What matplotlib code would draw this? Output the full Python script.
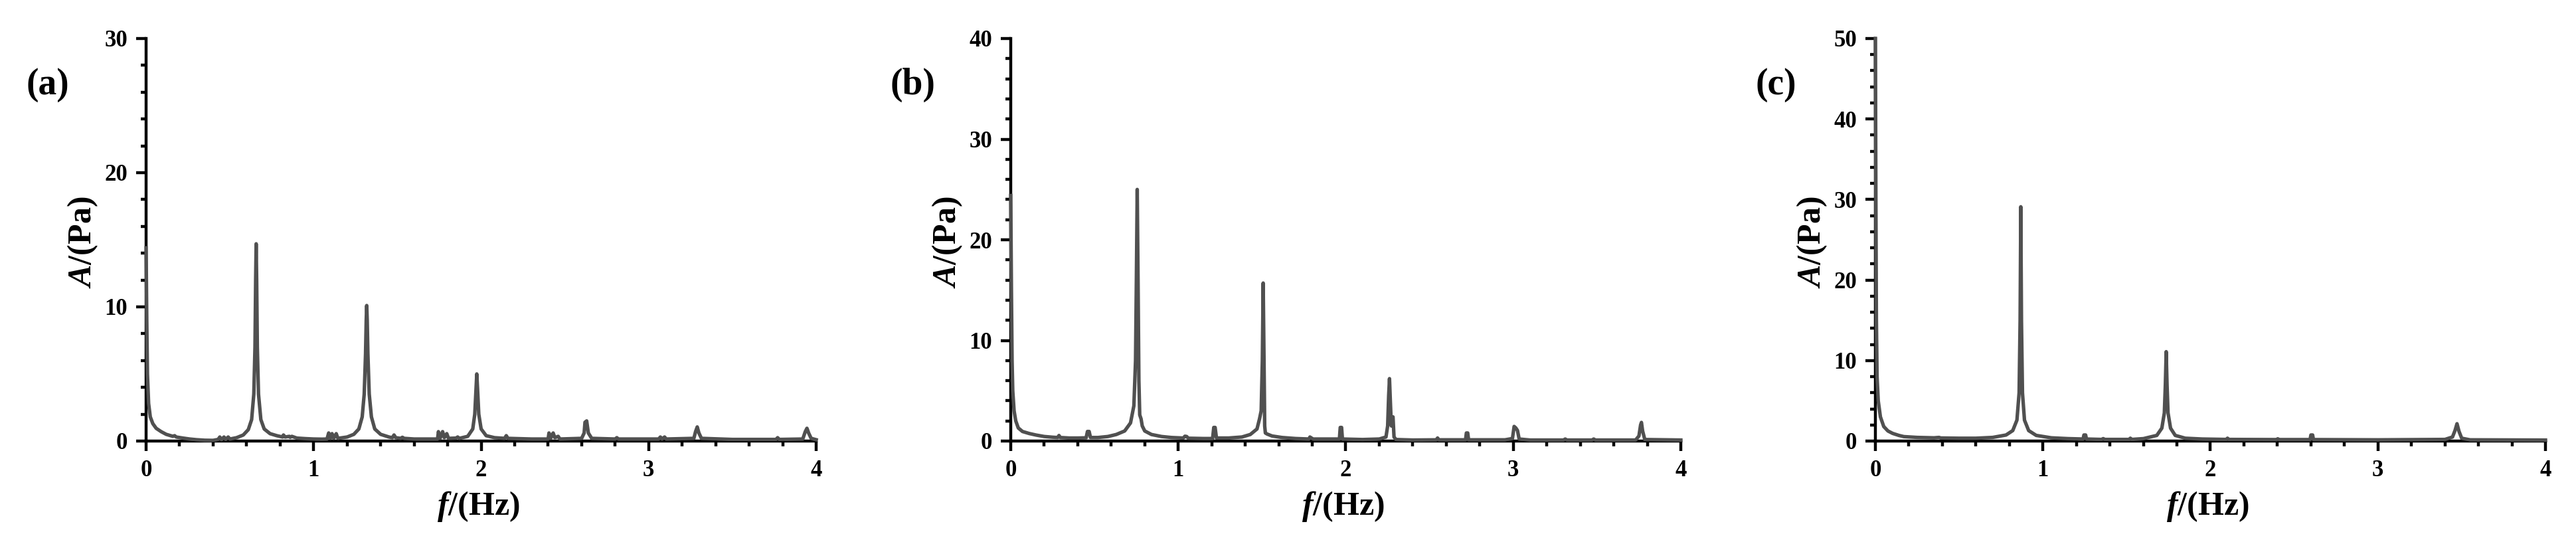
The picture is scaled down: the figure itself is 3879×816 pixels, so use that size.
import numpy as np
import matplotlib
matplotlib.use('Agg')
import matplotlib.pyplot as plt
from matplotlib.ticker import MultipleLocator

plt.rcParams['font.family'] = ['Liberation Serif', 'DejaVu Serif']
plt.rcParams['font.weight'] = 'bold'
plt.rcParams['mathtext.fontset'] = 'custom'
plt.rcParams['mathtext.it'] = 'Liberation Serif:bold:italic'
plt.rcParams['mathtext.rm'] = 'Liberation Serif:bold'

# spectrum (a): frequency in Hz, amplitude in Pa
freq_a = [0.000, 0.004, 0.008, 0.015, 0.025, 0.040, 0.060, 0.090, 0.120, 0.160, 0.170, 0.180,
          0.220, 0.260, 0.300, 0.350, 0.400, 0.430, 0.440, 0.450, 0.465, 0.475, 0.490, 0.500,
          0.540, 0.580, 0.610, 0.630, 0.643, 0.650, 0.654, 0.657, 0.660, 0.664, 0.671, 0.685,
          0.705, 0.740, 0.780, 0.815, 0.820, 0.830, 0.855, 0.860, 0.870, 0.900, 0.950, 1.000,
          1.050, 1.080, 1.090, 1.100, 1.110, 1.120, 1.135, 1.145, 1.200, 1.240, 1.270, 1.290,
          1.302, 1.310, 1.314, 1.317, 1.320, 1.324, 1.332, 1.345, 1.365, 1.400, 1.450, 1.470,
          1.480, 1.490, 1.520, 1.530, 1.540, 1.600, 1.700, 1.740, 1.745, 1.755, 1.770, 1.780,
          1.795, 1.805, 1.850, 1.860, 1.870, 1.920, 1.950, 1.962, 1.969, 1.974, 1.979, 1.986,
          2.000, 2.030, 2.080, 2.140, 2.150, 2.160, 2.300, 2.400, 2.405, 2.415, 2.430, 2.440,
          2.460, 2.470, 2.600, 2.615, 2.620, 2.630, 2.640, 2.660, 2.800, 2.810, 2.820, 3.060,
          3.070, 3.080, 3.095, 3.105, 3.270, 3.280, 3.290, 3.300, 3.315, 3.500, 3.760, 3.770,
          3.780, 3.920, 3.935, 3.945, 3.955, 3.970, 4.000]
amp_a = [14.4, 9.0, 5.0, 2.8, 1.8, 1.3, 0.95, 0.70, 0.50, 0.35, 0.40, 0.30,
         0.22, 0.15, 0.10, 0.06, 0.05, 0.12, 0.30, 0.10, 0.30, 0.12, 0.30, 0.15,
         0.25, 0.45, 0.85, 1.6, 3.5, 7.0, 12.0, 14.7, 12.0, 7.0, 3.5, 1.6,
         0.9, 0.55, 0.40, 0.30, 0.45, 0.30, 0.35, 0.28, 0.35, 0.22, 0.18, 0.15,
         0.14, 0.15, 0.60, 0.20, 0.55, 0.20, 0.55, 0.20, 0.30, 0.50, 0.90, 1.8,
         3.5, 6.5, 9.0, 10.1, 9.0, 6.5, 3.5, 1.8, 0.9, 0.5, 0.3, 0.25,
         0.45, 0.25, 0.20, 0.28, 0.20, 0.15, 0.15, 0.15, 0.70, 0.20, 0.70, 0.25,
         0.55, 0.20, 0.22, 0.30, 0.20, 0.35, 0.9, 2.0, 3.8, 5.0, 3.8, 2.0,
         0.9, 0.40, 0.25, 0.20, 0.40, 0.20, 0.15, 0.15, 0.60, 0.20, 0.60, 0.25,
         0.35, 0.15, 0.20, 0.60, 1.40, 1.50, 0.60, 0.20, 0.15, 0.25, 0.15, 0.15,
         0.30, 0.15, 0.30, 0.15, 0.20, 0.70, 1.05, 0.60, 0.20, 0.12, 0.12, 0.25,
         0.12, 0.15, 0.70, 0.95, 0.60, 0.20, 0.10]

# spectrum (b)
freq_b = [0.000, 0.004, 0.008, 0.012, 0.020, 0.030, 0.045, 0.070, 0.110, 0.150, 0.200, 0.250,
          0.280, 0.288, 0.296, 0.350, 0.400, 0.450, 0.458, 0.468, 0.476, 0.520, 0.580, 0.630,
          0.680, 0.715, 0.735, 0.745, 0.750, 0.755, 0.760, 0.765, 0.770, 0.778, 0.785, 0.800,
          0.840, 0.900, 0.960, 1.030, 1.040, 1.050, 1.060, 1.150, 1.205, 1.212, 1.220, 1.228,
          1.300, 1.380, 1.430, 1.470, 1.485, 1.495, 1.502, 1.507, 1.512, 1.516, 1.520, 1.530,
          1.560, 1.620, 1.700, 1.780, 1.786, 1.795, 1.805, 1.900, 1.962, 1.967, 1.975, 1.980,
          2.100, 2.200, 2.240, 2.250, 2.256, 2.261, 2.266, 2.272, 2.276, 2.282, 2.288, 2.300,
          2.400, 2.540, 2.548, 2.556, 2.715, 2.720, 2.728, 2.733, 2.950, 2.995, 3.005, 3.015,
          3.025, 3.035, 3.100, 3.300, 3.310, 3.320, 3.470, 3.480, 3.490, 3.730, 3.750, 3.760,
          3.765, 3.772, 3.785, 4.000]
amp_b = [24.4, 15.0, 8.0, 5.0, 3.0, 2.0, 1.3, 0.95, 0.75, 0.60, 0.45, 0.38,
         0.35, 0.55, 0.35, 0.30, 0.30, 0.32, 0.95, 0.95, 0.35, 0.35, 0.45, 0.65,
         1.0, 1.8, 3.5, 8.0, 16.0, 25.0, 16.0, 6.0, 2.6, 2.2, 1.5, 1.0,
         0.65, 0.45, 0.35, 0.30, 0.48, 0.45, 0.28, 0.25, 0.25, 1.35, 1.35, 0.30,
         0.30, 0.40, 0.65, 1.2, 2.2, 3.0, 8.0, 15.7, 8.0, 1.5, 0.8, 0.7,
         0.5, 0.35, 0.25, 0.20, 0.40, 0.30, 0.20, 0.20, 0.20, 1.35, 1.35, 0.20,
         0.15, 0.20, 0.40, 1.5, 4.5, 6.2, 4.0, 1.5, 2.4, 2.4, 0.40, 0.15,
         0.10, 0.12, 0.30, 0.12, 0.12, 0.80, 0.80, 0.12, 0.12, 0.25, 1.45, 1.30,
         1.05, 0.20, 0.10, 0.10, 0.20, 0.10, 0.10, 0.20, 0.10, 0.10, 0.50, 1.60,
         1.85, 1.00, 0.15, 0.10]

# spectrum (c)
freq_c = [0.000, 0.003, 0.006, 0.010, 0.017, 0.030, 0.050, 0.075, 0.103, 0.140, 0.170, 0.250,
          0.350, 0.380, 0.390, 0.500, 0.600, 0.700, 0.780, 0.820, 0.845, 0.858, 0.864, 0.868,
          0.872, 0.878, 0.890, 0.915, 0.960, 1.050, 1.150, 1.240, 1.245, 1.255, 1.260, 1.350,
          1.360, 1.370, 1.515, 1.522, 1.530, 1.600, 1.680, 1.710, 1.725, 1.731, 1.736, 1.741,
          1.747, 1.762, 1.790, 1.850, 1.950, 2.095, 2.102, 2.110, 2.395, 2.402, 2.410, 2.595,
          2.600, 2.610, 2.615, 3.000, 3.400, 3.445, 3.460, 3.472, 3.484, 3.500, 3.550, 4.000]
amp_c = [50.0, 30.0, 15.0, 8.0, 5.0, 3.0, 1.8, 1.25, 0.95, 0.70, 0.55, 0.45,
         0.40, 0.45, 0.38, 0.35, 0.35, 0.45, 0.75, 1.3, 2.6, 6.0, 15.0, 29.1,
         15.0, 6.0, 2.6, 1.3, 0.70, 0.40, 0.30, 0.25, 0.75, 0.75, 0.25, 0.20,
         0.30, 0.20, 0.20, 0.35, 0.20, 0.30, 0.70, 1.6, 3.5, 7.0, 11.1, 7.0,
         3.5, 1.6, 0.70, 0.35, 0.25, 0.20, 0.35, 0.20, 0.18, 0.28, 0.18, 0.18,
         0.75, 0.75, 0.18, 0.15, 0.20, 0.50, 1.3, 2.15, 1.2, 0.35, 0.15, 0.12]

panels = ['(a)', '(b)', '(c)']
ymax = [30, 40, 50]
freqs = [freq_a, freq_b, freq_c]
amps = [amp_a, amp_b, amp_c]

W, H = 3880, 816
fig = plt.figure(figsize=(W / 100, H / 100), dpi=100)
lefts = [220, 1522, 2824]

for i in range(3):
    ax = fig.add_axes([lefts[i] / W, 1 - 664 / H, 1009 / W, 606 / H])
    ax.plot(freqs[i], amps[i], color='#505050', lw=3.8, solid_joinstyle='round', clip_on=False, zorder=3)
    ax.set_xlim(0, 4)
    ax.set_ylim(0, ymax[i])
    ax.spines['top'].set_visible(False)
    ax.spines['right'].set_visible(False)
    ax.spines['left'].set_linewidth(3.2)
    ax.spines['bottom'].set_linewidth(3.2)
    ax.xaxis.set_major_locator(MultipleLocator(1))
    ax.xaxis.set_minor_locator(MultipleLocator(0.2))
    ax.yaxis.set_major_locator(MultipleLocator(10))
    ax.yaxis.set_minor_locator(MultipleLocator(2))
    ax.tick_params(which='major', direction='out', length=11, width=3.2, labelsize=25, pad=9)
    ax.tick_params(which='minor', direction='out', length=5.5, width=3.2)
    for lab in ax.get_xticklabels() + ax.get_yticklabels():
        lab.set_fontweight('bold')
    ax.text(-0.094, 0.493, r'$\mathit{A/}$(Pa)', transform=ax.transAxes, rotation=90,
            ha='center', va='center', fontsize=36, fontweight='bold')
    ax.text(0.496, -0.162, r'$\mathit{f/}$(Hz)', transform=ax.transAxes,
            ha='center', va='center', fontsize=36, fontweight='bold')
    fig.text((lefts[i] - 181) / W, 1 - 128 / H, panels[i], ha='left', va='center',
             fontsize=40, fontweight='bold')

fig.savefig('out.png', dpi=100)
